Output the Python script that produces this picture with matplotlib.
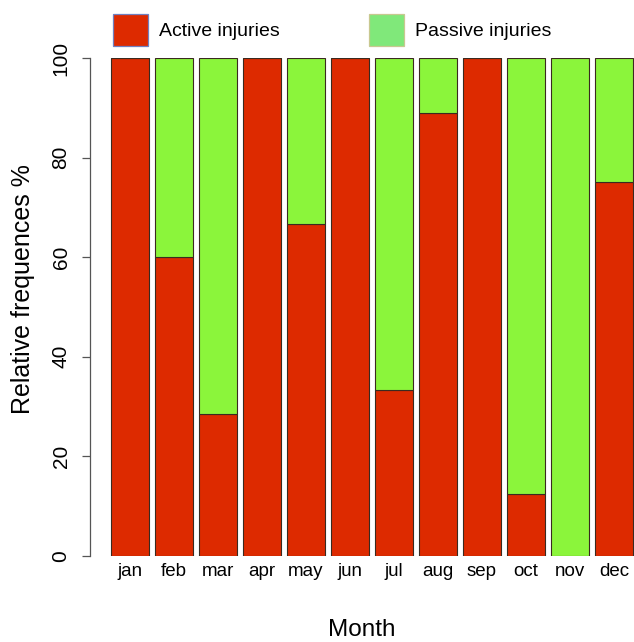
import numpy as np
import matplotlib.pyplot as plt
from matplotlib.patches import Rectangle

# データ
months = ['jan', 'feb', 'mar', 'apr', 'may', 'jun',
          'jul', 'aug', 'sep', 'oct', 'nov', 'dec']
active = [100, 60, 28.57, 100, 66.67, 100, 33.33, 88.89, 100, 12.5, 0, 75]
passive = [100 - a for a in active]
legend_labels = ['Active injuries', 'Passive injuries']

red = '#DD2A00'
green = '#8BF53B'

plt.rcParams['font.family'] = ['Liberation Sans', 'DejaVu Sans']

W, H = 634, 642
fig = plt.figure(figsize=(W / 100, H / 100), dpi=100)
ax = fig.add_axes([90 / W, 86 / H, 544 / W, 498 / H])

x = np.arange(len(months))
ax.bar(x, active, width=0.86, color=red, edgecolor='#3a2a20', linewidth=0.8)
ax.bar(x, passive, width=0.86, bottom=active, color=green,
       edgecolor='#3a2a20', linewidth=0.8)

ax.set_xlim(-40 / 44, 504 / 44)
ax.set_ylim(0, 100)

# R風の軸
for s in ['top', 'right', 'bottom']:
    ax.spines[s].set_visible(False)
ax.spines['left'].set_color('#555555')
ax.spines['left'].set_linewidth(0.9)
ax.set_yticks([0, 20, 40, 60, 80, 100])
ax.set_yticklabels(['0', '20', '40', '60', '80', '100'], rotation=90,
                   va='center', fontsize=15)
ax.tick_params(axis='y', length=6, width=0.9, color='#555555', pad=8)
ax.set_xticks(x)
ax.set_xticklabels(months, fontsize=13.5)
ax.tick_params(axis='x', length=0, pad=5)

ax.set_ylabel('Relative frequences %', fontsize=18)
ax.yaxis.set_label_coords(-55 / 544, 0.536)
ax.set_xlabel('Month', fontsize=17.5, labelpad=28)

# 凡例 (手動配置)
leg_boxes = [(113, '#DD2A00', '#7080c0'), (369, '#80E87A', '#c8c890')]
for (bx, fc, ec), lab in zip(leg_boxes, legend_labels):
    fig.add_artist(Rectangle((bx / W, 1 - 46 / H), 35 / W, 32 / H,
                             transform=fig.transFigure, facecolor=fc,
                             edgecolor=ec, linewidth=0.9))
    fig.text((bx + 46) / W, 1 - 31 / H, lab, fontsize=14, va='center',
             ha='left')

fig.savefig('out.png', dpi=100)
